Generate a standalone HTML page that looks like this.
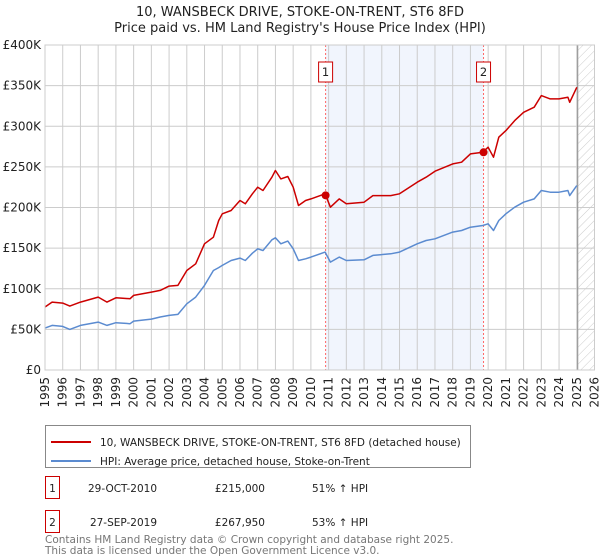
<!DOCTYPE html>
<html><head><meta charset="utf-8"><style>
body{margin:0;background:#fff;font-family:"Liberation Sans","DejaVu Sans",sans-serif}
svg{display:block}
</style></head><body>
<svg id="c" width="600" height="560" xmlns="http://www.w3.org/2000/svg" font-family="DejaVu Sans, Liberation Sans, sans-serif">
<defs><pattern id="hatch" width="6" height="6" patternUnits="userSpaceOnUse" patternTransform="rotate(45)"><line x1="0" y1="0" x2="0" y2="6" stroke="#ccc" stroke-width="1"/></pattern></defs>
<text x="300" y="16" text-anchor="middle" font-size="13" fill="#222">10, WANSBECK DRIVE, STOKE-ON-TRENT, ST6 8FD</text>
<text x="300" y="32" text-anchor="middle" font-size="13" fill="#222">Price paid vs. HM Land Registry's House Price Index (HPI)</text>
<g id="plot"></g>
<g>
<rect x="45.5" y="425.5" width="425" height="42" fill="#fff" stroke="#888"/>
<line x1="51" y1="442" x2="91" y2="442" stroke="#cc0000" stroke-width="2"/>
<text x="100" y="446" font-size="10.5" fill="#222">10, WANSBECK DRIVE, STOKE-ON-TRENT, ST6 8FD (detached house)</text>
<line x1="51" y1="461" x2="91" y2="461" stroke="#5b8bd0" stroke-width="2"/>
<text x="100" y="465" font-size="10.5" fill="#222">HPI: Average price, detached house, Stoke-on-Trent</text>
</g>
<g font-size="10.5" fill="#222">
<rect x="45.5" y="476.5" width="14" height="22" fill="#fff" stroke="#cc0000"/>
<text x="52.5" y="492" text-anchor="middle">1</text>
<text x="157" y="492" text-anchor="end">29-OCT-2010</text>
<text x="265" y="492" text-anchor="end">£215,000</text>
<text x="312" y="492">51% ↑ HPI</text>
<rect x="45.5" y="510.5" width="14" height="22" fill="#fff" stroke="#cc0000"/>
<text x="52.5" y="526" text-anchor="middle">2</text>
<text x="157" y="526" text-anchor="end">27-SEP-2019</text>
<text x="265" y="526" text-anchor="end">£267,950</text>
<text x="312" y="526">53% ↑ HPI</text>
</g>
<text x="45" y="543" font-size="10.5" fill="#777">Contains HM Land Registry data © Crown copyright and database right 2025.</text>
<text x="45" y="554" font-size="10.5" fill="#777">This data is licensed under the Open Government Licence v3.0.</text>
</svg>
<script>
const years=[1995,1995.4,1996,1996.4,1997,1998,1998.5,1999,1999.8,2000,2001,2001.5,2002,2002.5,2003,2003.5,2004,2004.5,2004.8,2005,2005.5,2006,2006.3,2006.7,2007,2007.3,2007.8,2008,2008.3,2008.7,2009,2009.3,2009.7,2010,2010.8,2011.1,2011.6,2012,2013,2013.5,2014.5,2015,2016,2016.5,2017,2018,2018.5,2019,2019.7,2020,2020.3,2020.6,2021,2021.5,2022,2022.6,2023,2023.5,2024,2024.5,2024.6,2025];
const hpiValues=[51.6,54.9,53.7,50.0,54.9,59.0,54.9,58.2,57.0,60.2,62.7,65.2,67.2,68.4,81.5,89.7,104.1,122.5,126,128.7,134.8,137.7,134.8,143.8,149.2,147.1,160.2,162.7,155.3,158.6,149.2,134.8,136.9,138.9,145.1,132.8,138.9,134.8,135.6,141.0,143.0,145.1,155.3,159.4,161.5,169.7,171.7,175.8,177.9,179.9,171.7,184.0,192.2,200.4,206.5,210.6,220.9,218.8,218.8,220.9,214.7,227.0];
const propValues=[77.5,83.6,82.4,78.7,83.6,89.7,83.6,88.9,87.7,91.8,95.9,98.0,103.3,104.1,122.5,130.7,155.3,163.5,184.0,192.2,196.3,208.6,204.5,216.8,225.0,220.9,237.3,245.5,235.2,238.1,225.0,202.5,208.6,210.6,216.8,200.4,210.6,204.5,206.5,214.7,214.7,216.8,231.1,237.3,244.7,253.7,255.7,266.0,268.0,274.2,261.9,286.5,294.7,307.0,317.2,323.4,337.7,333.6,333.6,335.6,329.5,347.9];
const saleYears=[2010.83,2019.74];
const saleValues=[215,267.95];
const saleLabels=["1","2"];
const yTicks=[0,50,100,150,200,250,300,350,400];
const yTickLabels=["£0","£50K","£100K","£150K","£200K","£250K","£300K","£350K","£400K"];
const xTicks=[1995,1996,1997,1998,1999,2000,2001,2002,2003,2004,2005,2006,2007,2008,2009,2010,2011,2012,2013,2014,2015,2016,2017,2018,2019,2020,2021,2022,2023,2024,2025,2026];

const X0=45,X1=594.5,Y0=370,Y1=45;
const xs=y=>X0+(y-1995)/(2026-1995)*(X1-X0);
const ys=v=>Y0-v/400*(Y0-Y1);
const NS="http://www.w3.org/2000/svg";
const g=document.getElementById('plot');
function mk(t,a,p){const e=document.createElementNS(NS,t);for(const k in a)e.setAttribute(k,a[k]);(p||g).appendChild(e);return e;}

let r=mk('rect',{x:xs(saleYears[0]),y:Y1,width:xs(saleYears[1])-xs(saleYears[0]),height:Y0-Y1,fill:'#eef3fc',opacity:0.8});


let h=mk('rect',{x:xs(2025.05),y:Y1,width:X1-xs(2025.05),height:Y0-Y1,fill:'url(#hatch)'});



xTicks.forEach(t=>{
  const l=mk('line',{x1:xs(t),x2:xs(t),y1:Y1,y2:Y0,stroke:'#cccccc','stroke-width':1});
  
  
  const tx=mk('text',{transform:`translate(${xs(t)+4},${Y0+7}) rotate(-90)`,'text-anchor':'end','font-size':12,fill:'#222'});
  tx.textContent=t;
  
  
});
yTicks.forEach((t,i)=>{
  const l=mk('line',{x1:X0,x2:X1,y1:ys(t),y2:ys(t),stroke:'#cccccc','stroke-width':1});
  
  
  const tx=mk('text',{x:41,y:ys(t)+4,'text-anchor':'end','font-size':12,fill:'#222'});
  tx.textContent=yTickLabels[i];
  
  
});
let cut=mk('line',{x1:xs(2025.05),x2:xs(2025.05),y1:Y1,y2:Y0,stroke:'#999','stroke-width':1.2});



saleYears.forEach((s,i)=>{
  const l=mk('line',{x1:xs(s),x2:xs(s),y1:Y1,y2:Y0,stroke:'#ff6666','stroke-width':1,'stroke-dasharray':'2,2'});
  
  
  const b=mk('rect',{x:xs(s)-7,y:62,width:14,height:20,fill:'#fff',stroke:'#cc0000'});
  
  
  const t=mk('text',{x:xs(s),y:76,'text-anchor':'middle','font-size':11.5,fill:'#222'});
  t.textContent=saleLabels[i];
  
  
});

function path(vals){return vals.map((v,i)=>(i?'L':'M')+xs(years[i]).toFixed(1)+','+ys(v).toFixed(1)).join('');}
const hp=mk('path',{d:path(hpiValues),fill:'none',stroke:'#5b8bd0','stroke-width':1.5,'stroke-linejoin':'round'});


const pp=mk('path',{d:path(propValues),fill:'none',stroke:'#cc0000','stroke-width':1.5,'stroke-linejoin':'round'});


saleYears.forEach((s,i)=>{
  const c=mk('circle',{cx:xs(s),cy:ys(saleValues[i]),r:4,fill:'#cc0000'});
  
  
});
const bd=mk('rect',{x:X0,y:Y1,width:X1-X0,height:Y0-Y1,fill:'none',stroke:'#cccccc'});


</script>
</body></html>
